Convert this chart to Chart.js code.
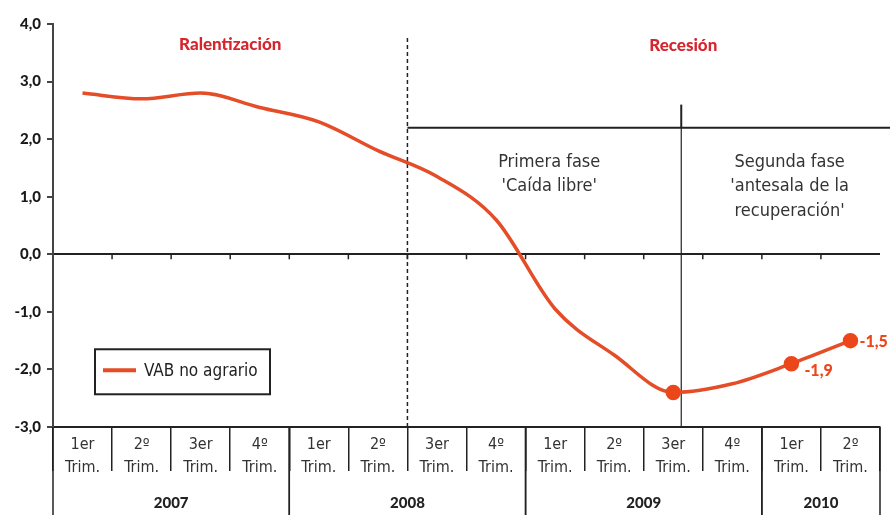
<!DOCTYPE html>
<html>
<head>
<meta charset="utf-8">
<title>VAB no agrario</title>
<script src="https://cdn.jsdelivr.net/npm/chart.js@4.4.0/dist/chart.umd.min.js"></script>
<style>
  html, body { margin: 0; padding: 0; background: #fff; }
  canvas { display: block; }
</style>
</head>
<body>
<canvas id="vabChart" width="890" height="515"></canvas>
<script>
// Quarters (two text lines each) and the years they belong to
const quarterLabels = [
  ['1er', 'Trim.'], ['2º', 'Trim.'], ['3er', 'Trim.'], ['4º', 'Trim.'],
  ['1er', 'Trim.'], ['2º', 'Trim.'], ['3er', 'Trim.'], ['4º', 'Trim.'],
  ['1er', 'Trim.'], ['2º', 'Trim.'], ['3er', 'Trim.'], ['4º', 'Trim.'],
  ['1er', 'Trim.'], ['2º', 'Trim.']
];
const years = ['2007', '2008', '2009', '2010'];
const quartersPerYear = [4, 4, 4, 2];

// VAB no agrario, tasa interanual (%)
const vabValues = [2.8, 2.7, 2.8, 2.55, 2.3, 1.8, 1.35, 0.6, -0.95, -1.75, -2.4, -2.25, -1.9, -1.5];
const markedPoints = [10, 12, 13];
const pointTexts = { 12: '-1,9', 13: '-1,5' };

const yMin = -3, yMax = 4;

const LINE_COLOR = '#e44d27';
const DOT_COLOR = '#ec461b';
const RED_TITLE = '#d6252d';
const INK = '#222';
const NARROW = "'Liberation Sans Narrow', 'DejaVu Sans Condensed', sans-serif";
const HEAVY = "Lato, 'DejaVu Sans', sans-serif";

// 🔹 Everything around the line: phases, table under the axis, legend, value labels
const decorations = {
  id: 'decorations',
  beforeDatasetsDraw(chart) {
    const { ctx, chartArea: area, scales: { x, y } } = chart;
    const y0 = y.getPixelForValue(0);
    ctx.save();

    // small ticks under the zero line
    ctx.strokeStyle = INK;
    ctx.lineWidth = 1.5;
    for (let i = 0; i < quarterLabels.length - 1; i++) {
      const bx = x.getPixelForValue(i + 0.5);
      ctx.beginPath();
      ctx.moveTo(bx, y0);
      ctx.lineTo(bx, y0 + 5);
      ctx.stroke();
    }

    // dashed line: Ralentización | Recesión
    const splitX = x.getPixelForValue(5.5);
    ctx.setLineDash([4, 3]);
    ctx.lineWidth = 1.5;
    ctx.beginPath();
    ctx.moveTo(splitX, 38);
    ctx.lineTo(splitX, area.bottom);
    ctx.stroke();
    ctx.setLineDash([]);

    // bracket for the two recession phases
    const bracketY = y.getPixelForValue(2.2);
    ctx.lineWidth = 2;
    ctx.beginPath();
    ctx.moveTo(splitX, bracketY);
    ctx.lineTo(chart.width, bracketY);
    ctx.stroke();

    const phaseX = x.getPixelForValue(10) + 8;
    ctx.beginPath();
    ctx.moveTo(phaseX, y.getPixelForValue(2.6));
    ctx.lineTo(phaseX, bracketY);
    ctx.stroke();
    ctx.lineWidth = 1.2;
    ctx.beginPath();
    ctx.moveTo(phaseX, bracketY);
    ctx.lineTo(phaseX, area.bottom);
    ctx.stroke();

    // titles
    ctx.fillStyle = RED_TITLE;
    ctx.font = '900 17px ' + HEAVY;
    ctx.textAlign = 'center';
    ctx.textBaseline = 'middle';
    ctx.fillText('Ralentización', x.getPixelForValue(2.5), 45);
    ctx.fillText('Recesión', phaseX + 2, 46);

    ctx.fillStyle = '#333';
    ctx.font = '18px ' + NARROW;
    const firstX = x.getPixelForValue(7.9);
    ctx.fillText('Primera fase', firstX, y.getPixelForValue(1.6));
    ctx.fillText("'Caída libre'", firstX, y.getPixelForValue(1.18));
    const secondX = x.getPixelForValue(11.97);
    ctx.fillText('Segunda fase', secondX, y.getPixelForValue(1.6));
    ctx.fillText("'antesala de la", secondX, y.getPixelForValue(1.18));
    ctx.fillText("recuperación'", secondX, y.getPixelForValue(0.74));

    // year row under the quarter labels
    ctx.strokeStyle = INK;
    ctx.lineWidth = 1.5;
    ctx.fillStyle = INK;
    ctx.font = '900 15px ' + HEAVY;
    let start = 0;
    years.forEach((yr, k) => {
      const end = start + quartersPerYear[k];
      const left = x.getPixelForValue(start - 0.5);
      const right = x.getPixelForValue(end - 0.5);
      [left, right].forEach(px => {
        ctx.beginPath();
        ctx.moveTo(px, area.bottom);
        ctx.lineTo(px, chart.height);
        ctx.stroke();
      });
      ctx.fillText(yr, (left + right) / 2, 503);
      start = end;
    });

    // legend box
    const lx = area.left + 42, ly = y.getPixelForValue(-1.65);
    ctx.lineWidth = 2;
    ctx.strokeRect(lx, ly, 175, 45);
    ctx.strokeStyle = LINE_COLOR;
    ctx.lineWidth = 4;
    ctx.beginPath();
    ctx.moveTo(lx + 8, ly + 21);
    ctx.lineTo(lx + 41, ly + 21);
    ctx.stroke();
    ctx.fillStyle = INK;
    ctx.font = '17px ' + NARROW;
    ctx.textAlign = 'left';
    ctx.fillText(chart.data.datasets[0].label, lx + 49, ly + 22);

    ctx.restore();
  },
  afterDatasetsDraw(chart) {
    const { ctx } = chart;
    const meta = chart.getDatasetMeta(0);
    ctx.save();
    ctx.fillStyle = DOT_COLOR;
    ctx.font = '900 16px ' + HEAVY;
    ctx.textAlign = 'left';
    ctx.textBaseline = 'middle';
    Object.keys(pointTexts).forEach(i => {
      const pt = meta.data[i];
      const dx = Number(i) === 13 ? 9 : 13;
      const dy = Number(i) === 13 ? 1 : 7;
      ctx.fillText(pointTexts[i], pt.x + dx, pt.y + dy);
    });
    ctx.restore();
  }
};

let vabChart = new Chart(document.getElementById('vabChart').getContext('2d'), {
  type: 'line',
  data: {
    labels: quarterLabels,
    datasets: [{
      label: 'VAB no agrario',
      data: vabValues,
      borderColor: LINE_COLOR,
      borderWidth: 3.5,
      cubicInterpolationMode: 'monotone',
      backgroundColor: DOT_COLOR,
      pointBackgroundColor: DOT_COLOR,
      pointBorderColor: DOT_COLOR,
      pointRadius: ctx => markedPoints.includes(ctx.dataIndex) ? 6 : 0,
      pointHoverRadius: 0,
      clip: false
    }]
  },
  options: {
    responsive: false,
    animation: false,
    layout: { padding: { top: 24, right: 10, left: 0, bottom: 0 } },
    plugins: {
      legend: { display: false },
      tooltip: { enabled: false }
    },
    scales: {
      x: {
        offset: true,
        afterFit: scale => { scale.height = 88; },
        border: { display: true, color: INK, width: 2 },
        grid: {
          offset: true,
          drawOnChartArea: false,
          drawTicks: true,
          tickLength: 44,
          color: INK,
          lineWidth: 1.5
        },
        ticks: {
          autoSkip: false,
          maxRotation: 0,
          minRotation: 0,
          padding: -38,
          color: '#333',
          font: { family: NARROW, size: 16, lineHeight: 1.45 }
        }
      },
      y: {
        min: yMin,
        max: yMax,
        afterFit: scale => { scale.width = 53; },
        border: { display: true, color: '#444', width: 2 },
        grid: {
          drawOnChartArea: true,
          drawTicks: true,
          tickLength: 6,
          color: ctx => ctx.tick && ctx.tick.value === 0 ? INK : 'rgba(0,0,0,0)',
          tickColor: '#444',
          lineWidth: 2
        },
        ticks: {
          stepSize: 1,
          padding: 6,
          color: '#1a1a1a',
          font: { family: HEAVY, size: 15, weight: '900' },
          callback: v => v.toFixed(1).replace('.', ',')
        }
      }
    }
  },
  plugins: [decorations]
});
</script>
</body>
</html>
